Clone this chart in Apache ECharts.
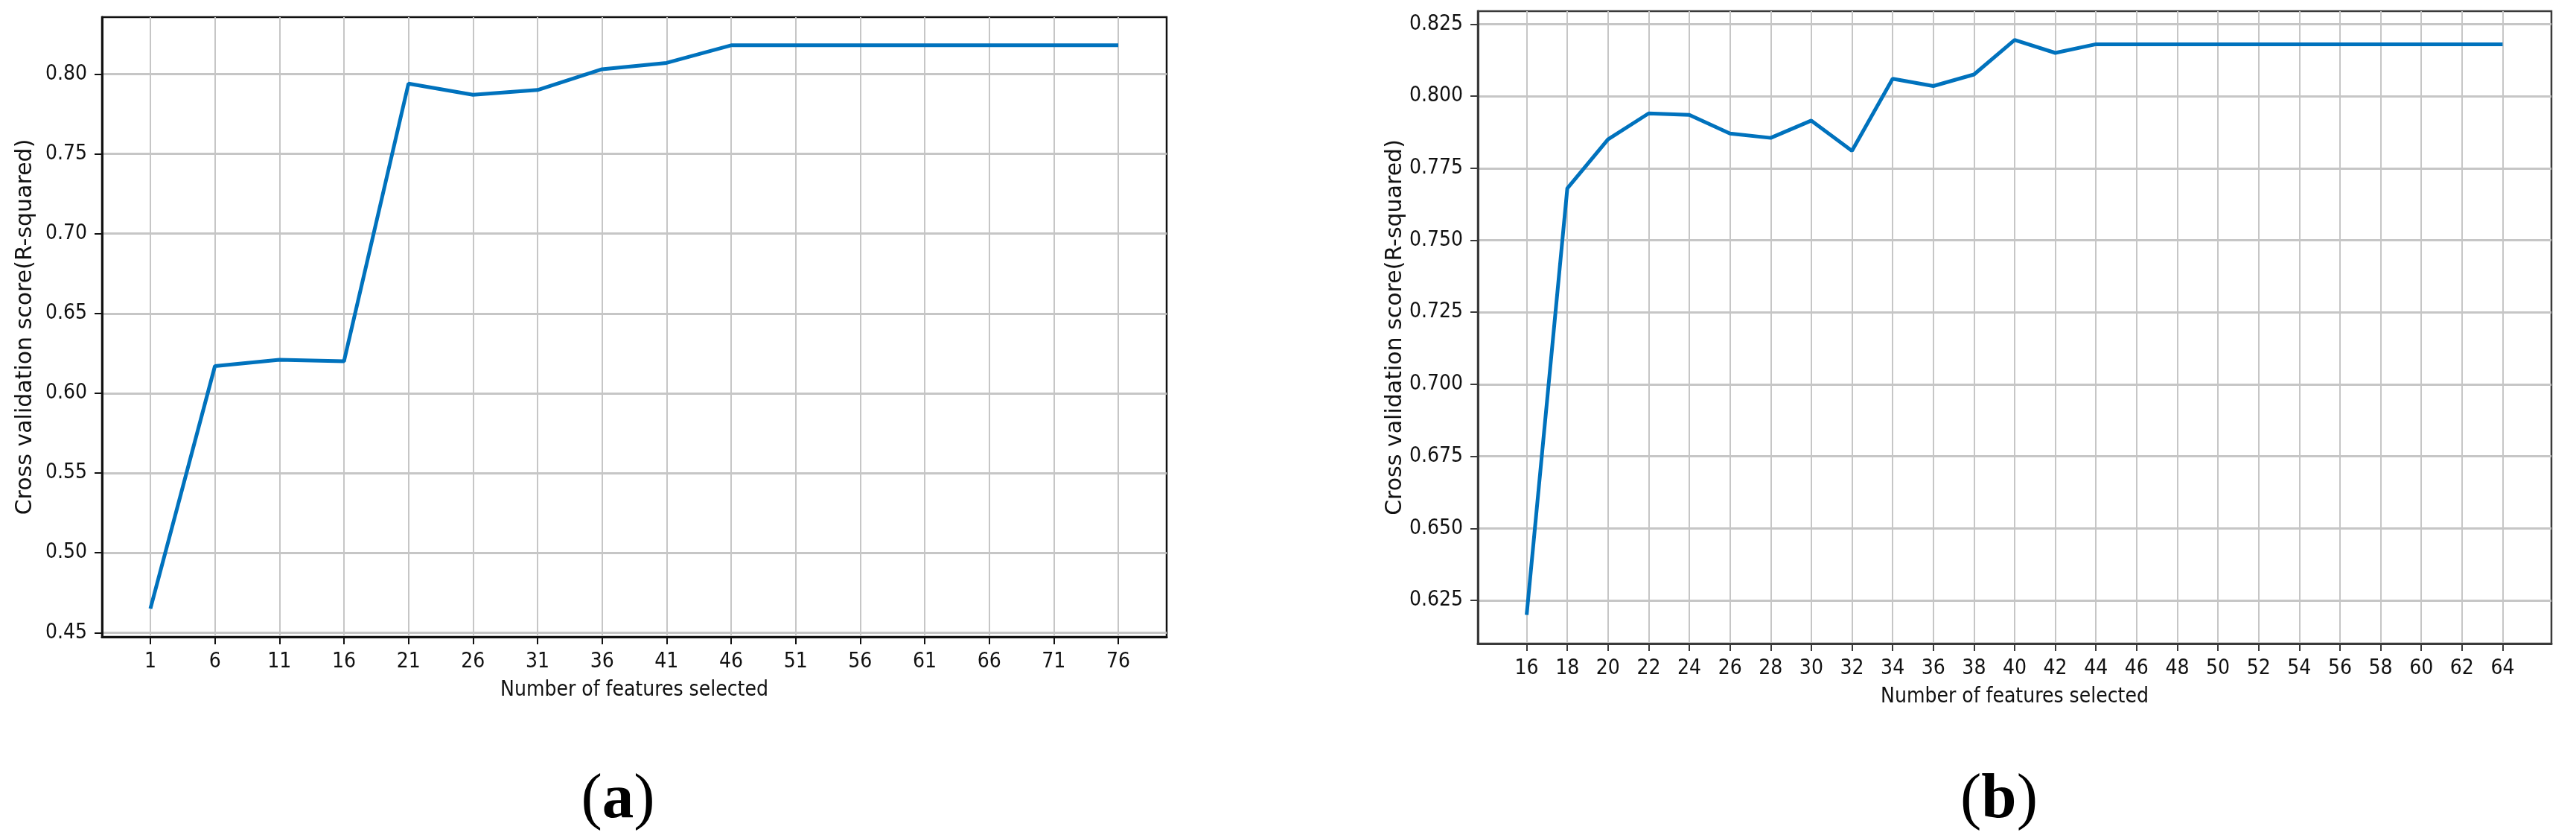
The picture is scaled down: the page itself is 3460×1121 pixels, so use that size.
<!DOCTYPE html>
<html>
<head>
<meta charset="utf-8">
<title>RFE cross validation</title>
<script src="https://cdn.jsdelivr.net/npm/echarts@6/dist/echarts.min.js"></script>
<style>
  html, body { margin: 0; padding: 0; background: #fff; }
  #chart { width: 3460px; height: 1121px; }
</style>
</head>
<body>
<div id="chart"></div>
<script>
// (a) features 1..76 step 5
const featuresA = [1, 6, 11, 16, 21, 26, 31, 36, 41, 46, 51, 56, 61, 66, 71, 76];
const scoresA = [0.465, 0.617, 0.621, 0.620, 0.794, 0.787, 0.790, 0.803, 0.807, 0.818,
  0.818, 0.818, 0.818, 0.818, 0.818, 0.818];
const yTicksA = [0.45, 0.50, 0.55, 0.60, 0.65, 0.70, 0.75, 0.80];

// (b) features 16..64 step 2
const featuresB = [16, 18, 20, 22, 24, 26, 28, 30, 32, 34, 36, 38, 40, 42, 44,
  46, 48, 50, 52, 54, 56, 58, 60, 62, 64];
const scoresB = [0.620, 0.768, 0.785, 0.794, 0.7935, 0.787, 0.7855, 0.7915, 0.781, 0.806,
  0.8035, 0.8075, 0.8195, 0.815, 0.818, 0.818, 0.818, 0.818, 0.818, 0.818,
  0.818, 0.818, 0.818, 0.818, 0.818];
const yTicksB = [0.625, 0.650, 0.675, 0.700, 0.725, 0.750, 0.775, 0.800, 0.825];

const xTitle = 'Number of features selected';
const yTitle = 'Cross validation score(R-squared)';

// matplotlib style 5% margins
function pad(arr) {
  var lo = Math.min.apply(null, arr), hi = Math.max.apply(null, arr);
  var m = (hi - lo) * 0.05;
  return [lo - m, hi + m];
}
var rxA = pad(featuresA), ryA = pad(scoresA);
var rxB = pad(featuresB), ryB = pad(scoresB);

var tickFont = 'DejaVu Sans Condensed';
var lineColor = '#0072bd';

function xAxisOf(idx, range, ticks, ink) {
  return {
    type: 'value', gridIndex: idx, min: range[0], max: range[1],
    name: xTitle, nameLocation: 'middle', nameGap: 58,
    nameTextStyle: { fontFamily: tickFont, fontSize: 28, color: '#111' },
    axisLine: { show: true, onZero: false, lineStyle: { color: ink, width: 3 } },
    axisTick: { show: true, length: 10, customValues: ticks, lineStyle: { color: ink, width: 2 } },
    axisLabel: { customValues: ticks, margin: 20, fontFamily: tickFont, fontSize: 28, color: '#111' },
    splitLine: { show: true, lineStyle: { color: '#c6c6c6', width: 2 } }
  };
}
function yAxisOf(idx, range, ticks, digits, ink) {
  return {
    type: 'value', gridIndex: idx, min: range[0], max: range[1],
    name: yTitle, nameLocation: 'middle', nameRotate: 90, nameGap: 88,
    nameTextStyle: { fontFamily: 'DejaVu Sans', fontSize: 30, color: '#111' },
    axisLine: { show: true, onZero: false, lineStyle: { color: ink, width: 3 } },
    axisTick: { show: true, length: 10, customValues: ticks, lineStyle: { color: ink, width: 2 } },
    axisLabel: {
      customValues: ticks, margin: 20, fontFamily: tickFont, fontSize: 28, color: '#111',
      formatter: function (v) { return v.toFixed(digits); }
    },
    splitLine: { show: true, lineStyle: { color: '#c6c6c6', width: 3 } }
  };
}

function panelLabel(letter, x) {
  return {
    type: 'text', x: x, y: 1075,
    style: {
      text: '{p|(}{b|' + letter + '}{p|)}', textAlign: 'center', textVerticalAlign: 'middle',
      rich: {
        p: { fontFamily: 'Liberation Serif', fontSize: 85, fill: '#000' },
        b: { fontFamily: 'Liberation Serif', fontSize: 85, fontWeight: 'bold', fill: '#000' }
      }
    }
  };
}

var chart = echarts.init(document.getElementById('chart'));
var option = {
  animation: false,
  backgroundColor: '#fff',
  grid: [
    { left: 137, top: 23, width: 1430, height: 832, show: true, borderColor: '#111', borderWidth: 2.5 },
    { left: 1985, top: 15, width: 1442, height: 849, show: true, borderColor: '#3a3a3a', borderWidth: 2.5 }
  ],
  xAxis: [xAxisOf(0, rxA, featuresA, '#111'), xAxisOf(1, rxB, featuresB, '#3a3a3a')],
  yAxis: [yAxisOf(0, ryA, yTicksA, 2, '#111'), yAxisOf(1, ryB, yTicksB, 3, '#3a3a3a')],
  series: [
    {
      type: 'line', xAxisIndex: 0, yAxisIndex: 0, showSymbol: false,
      data: featuresA.map(function (f, i) { return [f, scoresA[i]]; }),
      lineStyle: { color: lineColor, width: 5 }
    },
    {
      type: 'line', xAxisIndex: 1, yAxisIndex: 1, showSymbol: false,
      data: featuresB.map(function (f, i) { return [f, scoresB[i]]; }),
      lineStyle: { color: lineColor, width: 5 }
    }
  ],
  graphic: [panelLabel('a', 830), panelLabel('b', 2685)]
};
chart.setOption(option);
</script>
</body>
</html>
